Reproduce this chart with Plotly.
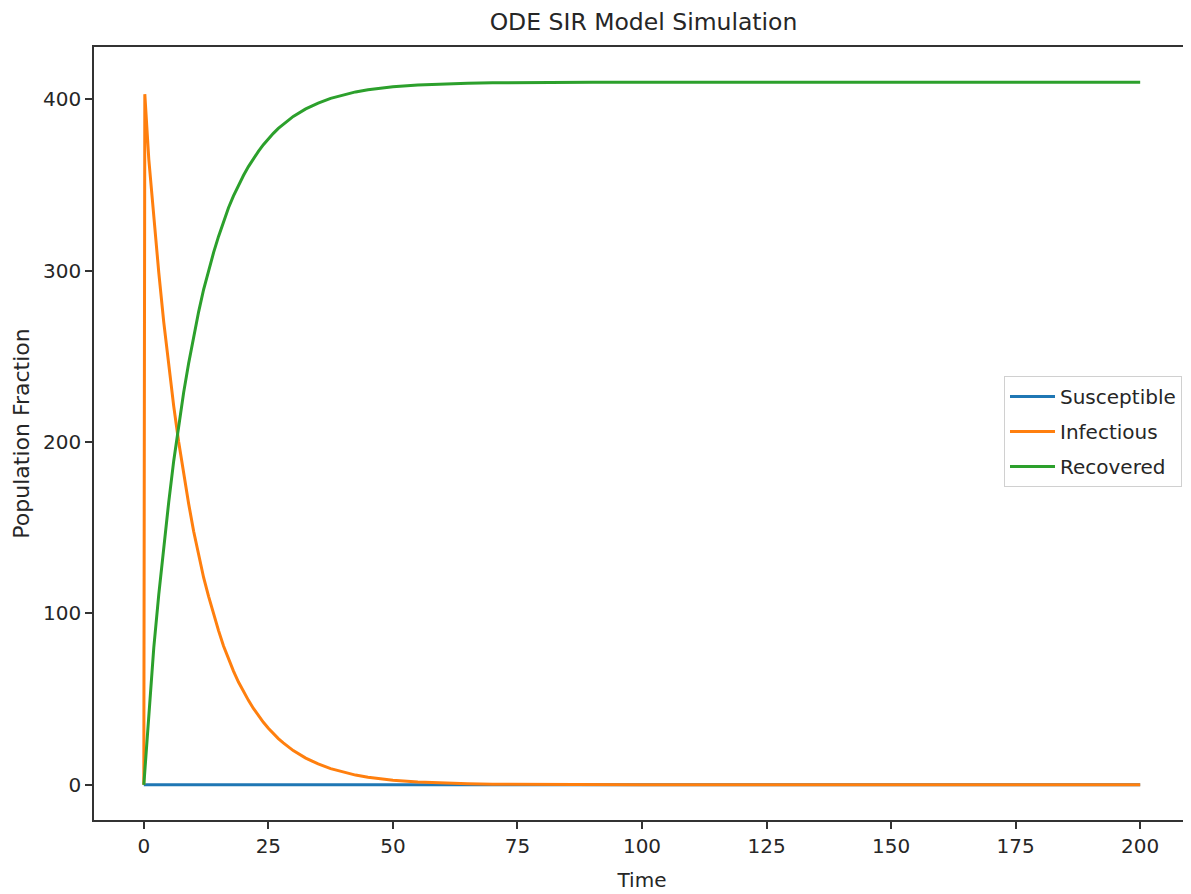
import plotly.graph_objects as go

# ---- data ----
time = [0, 0.2, 1, 2, 3, 4, 5, 6, 7, 8, 9, 10, 11, 12, 13, 14, 15, 16, 17, 18,
        19, 20, 21, 22, 23, 24, 25, 26, 27, 28, 29, 30, 32.5, 35, 37.5, 40,
        42.5, 45, 47.5, 50, 55, 60, 65, 70, 80, 90, 100, 125, 150, 175, 200]

susceptible = [0, 0, 0, 0, 0, 0, 0, 0, 0, 0, 0, 0, 0, 0, 0, 0, 0, 0, 0, 0,
               0, 0, 0, 0, 0, 0, 0, 0, 0, 0, 0, 0, 0, 0, 0, 0, 0, 0, 0, 0,
               0, 0, 0, 0, 0, 0, 0, 0, 0, 0, 0]

infectious = [0, 403, 365, 330, 299, 270, 245, 221, 200, 181, 164, 148, 134,
              121, 110, 99.5, 90, 81, 73.3, 66.4, 60, 54.5, 49.3, 44.6, 40.4,
              36.5, 33, 29.9, 27, 24.5, 22.1, 20, 15.6, 12.2, 9.5, 7.4, 5.7,
              4.5, 3.5, 2.7, 1.6, 1.0, 0.6, 0.4, 0.13, 0.05, 0, 0, 0, 0, 0]

recovered = [0, 8, 45, 80, 111, 140, 165, 189, 210, 229, 246, 262, 276, 289,
             300, 310.5, 320, 329, 336.7, 343.6, 350, 355.5, 360.7, 365.4,
             369.6, 373.5, 377, 380.1, 383, 385.5, 387.9, 390, 394.4, 397.8,
             400.5, 402.6, 404.3, 405.5, 406.5, 407.3, 408.4, 409, 409.4,
             409.6, 409.9, 410, 410, 410, 410, 410, 410]

series_names = ["Susceptible", "Infectious", "Recovered"]
series_colors = ["#1f77b4", "#ff7f0e", "#2ca02c"]

x_ticks = [0, 25, 50, 75, 100, 125, 150, 175, 200]
y_ticks = [0, 100, 200, 300, 400]

FONT = "DejaVu Sans"
TXT = "#262626"

fig = go.Figure()
for name, vals, col in zip(series_names, [susceptible, infectious, recovered], series_colors):
    fig.add_trace(go.Scatter(x=time, y=vals, mode="lines", name=name,
                             legendgroup=name,
                             line=dict(color=col, width=3)))

fig.update_layout(
    width=1191, height=894,
    margin=dict(l=86, r=9, t=39, b=82, autoexpand=False),
    paper_bgcolor="white", plot_bgcolor="white",
    font=dict(family=FONT, size=20, color=TXT),
    title=dict(text="ODE SIR Model Simulation", x=0.5336, xanchor="center",
               y=1 - 14 / 894, yanchor="middle", yref="container",
               font=dict(family=FONT, size=23.5, color=TXT)),
    showlegend=True,
    legend=dict(x=0.9927, xanchor="right", y=0.5026, yanchor="middle",
                traceorder="grouped", tracegroupgap=6, itemwidth=45,
                bgcolor="rgba(255,255,255,0.8)", bordercolor="#d0d0d0",
                borderwidth=1, font=dict(family=FONT, size=20, color=TXT)),
)

fig.update_xaxes(range=[-10, 210], tickvals=x_ticks,
                 ticktext=[str(v) for v in x_ticks],
                 showgrid=False, zeroline=False, automargin=False,
                 showline=True, linecolor="#333333", linewidth=1.5, mirror=True,
                 ticks="outside", ticklen=7, tickwidth=1.5, tickcolor="#333333",
                 tickfont=dict(family=FONT, size=20, color=TXT),
                 title=dict(text="Time", standoff=16,
                            font=dict(family=FONT, size=20, color=TXT)))

fig.update_yaxes(range=[-20.5, 430.5], tickvals=y_ticks,
                 ticktext=[str(v) for v in y_ticks],
                 showgrid=False, zeroline=False, automargin=False,
                 showline=True, linecolor="#333333", linewidth=1.5, mirror=True,
                 ticks="outside", ticklen=7, tickwidth=1.5, tickcolor="#333333",
                 tickfont=dict(family=FONT, size=20, color=TXT),
                 title=dict(text="Population Fraction", standoff=7,
                            font=dict(family=FONT, size=22, color=TXT)))

fig.write_html("out.html")
